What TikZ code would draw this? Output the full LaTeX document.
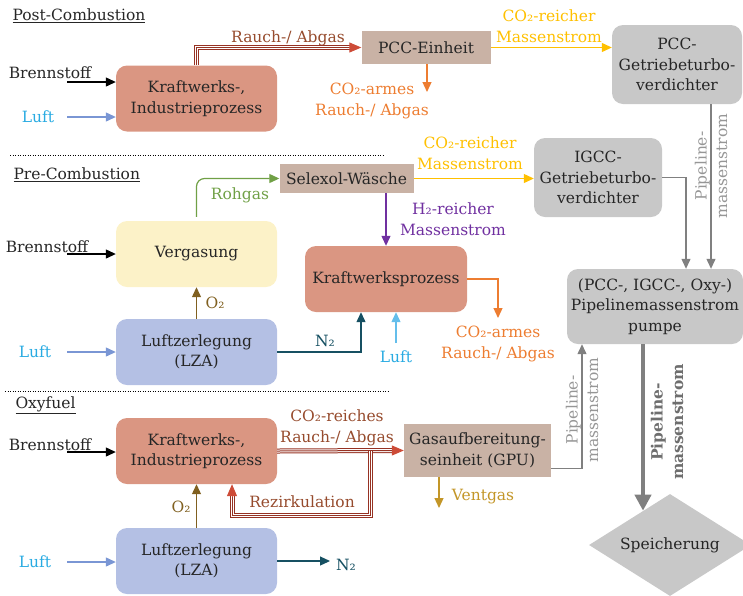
\documentclass[tikz,border=0pt]{standalone}
\usepackage{fontspec}
\setmainfont{DejaVu Serif}
\usetikzlibrary{arrows.meta,shapes.geometric}

\definecolor{kwred}{RGB}{218,150,130}
\definecolor{tanfill}{RGB}{201,178,165}
\definecolor{grayfill}{RGB}{200,200,200}
\definecolor{vgfill}{RGB}{252,242,200}
\definecolor{lzafill}{RGB}{180,192,228}
\definecolor{co2yellow}{RGB}{255,192,0}
\definecolor{co2orange}{RGB}{237,125,49}
\definecolor{h2purple}{RGB}{112,48,160}
\definecolor{rohgreen}{RGB}{112,160,70}
\definecolor{n2teal}{RGB}{22,80,98}
\definecolor{o2brown}{RGB}{128,96,32}
\definecolor{luftline}{RGB}{122,150,212}
\definecolor{lufttext}{RGB}{41,171,226}
\definecolor{luftlight}{RGB}{100,190,235}
\definecolor{rauchline}{RGB}{150,50,35}
\definecolor{rauchtext}{RGB}{150,75,45}
\definecolor{rauchtip}{RGB}{205,75,55}
\definecolor{pipeline}{RGB}{128,128,128}
\definecolor{pipetext}{RGB}{150,150,150}
\definecolor{pipebold}{RGB}{110,110,110}
\definecolor{ventgold}{RGB}{195,150,40}

\begin{document}
\begin{tikzpicture}[x=1pt, y=-1pt, font=\fontsize{15.5}{20.5}\selectfont,
        every node/.style={align=center, text=black!85},
        box/.style={rounded corners=11pt, minimum width=161pt, minimum height=66pt, inner sep=2pt},
        kwbox/.style={box, fill=kwred},
        vgbox/.style={box, fill=vgfill},
        lzabox/.style={box, fill=lzafill},
        graybox/.style={box, fill=grayfill},
        tanbox/.style={fill=tanfill, inner sep=2pt},
        store/.style={diamond, aspect=1.6, fill=grayfill, minimum width=162pt, minimum height=102pt, inner sep=0pt},
        flow/.style={line width=1.2pt, -{Triangle[length=10pt,width=9pt]}},
        triple/.style={draw=rauchline, line width=5pt,
            postaction={draw=white, line width=3pt},
            postaction={draw=rauchline, line width=1pt}},
        tiparrow/.style={draw=rauchtip, line width=1pt, -{Triangle[length=12pt,width=10pt]}},
        sepline/.style={line width=0.8pt, dash pattern=on 1pt off 1.5pt},
        pipelabel/.style={rotate=90, text=pipetext}]

    \useasboundingbox (0,0) rectangle (743,595);

    \node[anchor=west] (post) at (9,16) {\underline{Post-Combustion}};
    \node[anchor=west] (pre) at (10,175) {\underline{Pre-Combustion}};
    \node[anchor=west] (oxy) at (12,405) {\underline{Oxyfuel}};
    \draw[sepline] (10,155) -- (385,155);
    \draw[sepline] (5,391) -- (388,391);

    \node[kwbox] (kwA) at (196.5,98.5) {Kraftwerks-,\\Industrieprozess};
    \node[tanbox, minimum width=129pt, minimum height=33pt] (pcc) at (426,47.5) {PCC-Einheit};
    \node[graybox, minimum width=130pt, minimum height=79pt] (pccgt) at (677,64.5) {PCC-\\Getriebeturbo-\\verdichter};
    \node[vgbox] (vg) at (196.5,254) {Vergasung};
    \node[tanbox, minimum width=134pt, minimum height=29pt] (sel) at (346.5,178.5) {Selexol-Wäsche};
    \node[graybox, minimum width=128pt, minimum height=79pt] (igcc) at (598,177.5) {IGCC-\\Getriebeturbo-\\verdichter};
    \node[kwbox, minimum width=162pt] (kwp) at (386,279) {Kraftwerksprozess};
    \node[lzabox] (lzaB) at (196.5,352) {Luftzerlegung\\(LZA)};
    \node[graybox, minimum width=176pt, minimum height=75pt] (pump) at (655,306.5) {(PCC-, IGCC-, Oxy-)\\Pipelinemassenstrom\\pumpe};
    \node[kwbox] (kwC) at (196.5,451) {Kraftwerks-,\\Industrieprozess};
    \node[tanbox, minimum width=147pt, minimum height=53pt] (gpu) at (477.5,450.5) {Gasaufbereitung-\\seinheit (GPU)};
    \node[lzabox] (lzaC) at (196.5,561) {Luftzerlegung\\(LZA)};
    \node[store] (speicher) at (670,545) {Speicherung};

    \node (bsA) at (50,73) {Brennstoff};
    \node[text=lufttext] (luftA) at (38,117) {Luft};
    \node (bsB) at (47,247) {Brennstoff};
    \node[text=lufttext] (luftB) at (35,352) {Luft};
    \node (bsC) at (50,445) {Brennstoff};
    \node[text=lufttext] (luftC) at (35,562) {Luft};

    \coordinate (bsAin) at (67,82);
    \coordinate (luftAin) at (67,117);
    \coordinate (bsBin) at (67,254);
    \coordinate (luftBin) at (67,352);
    \coordinate (bsCin) at (67,452);
    \coordinate (luftCin) at (67,562);
    \draw[flow, black] (bsAin) -- (bsAin -| kwA.west);
    \draw[flow, luftline] (luftAin) -- (luftAin -| kwA.west);
    \draw[flow, black] (bsBin) -- (bsBin -| vg.west);
    \draw[flow, luftline] (luftBin) -- (luftBin -| lzaB.west);
    \draw[flow, black] (bsCin) -- (bsCin -| kwC.west);
    \draw[flow, luftline] (luftCin) -- (luftCin -| lzaC.west);

    \node[text=rauchtext] (rauchA) at (288,38) {Rauch-/ Abgas};
    \draw[triple] (kwA.north) |- ([xshift=-11pt]pcc.west);
    \draw[tiparrow] ([xshift=-12pt]pcc.west) -- (pcc.west);

    \coordinate (armAend) at (427,92);
    \draw[flow, co2orange] (pcc.south -| armAend) -- (armAend);
    \node[text=co2orange] (armA) at (372,101) {CO₂-armes\\Rauch-/ Abgas};
    \draw[flow, co2yellow] (pcc.east) -- (pcc.east -| pccgt.west);
    \node[text=co2yellow] (reichA) at (549,26) {CO₂-reicher\\Massenstrom};

    \draw[flow, pipeline] ([xshift=34pt]pccgt.south) -- ([xshift=34pt]pccgt.south |- pump.north);
    \node[pipelabel] (pipeA) at (711,166) {Pipeline-\\massenstrom};

    \draw[flow, rohgreen, rounded corners=8pt] ([yshift=4pt]vg.north) |- (sel.west);
    \node[text=rohgreen] (roh) at (240,195) {Rohgas};
    \draw[flow, o2brown] (lzaB.north) -- (vg.south);
    \node[text=o2brown] (o2B) at (215,303) {O₂};

    \draw[flow, co2yellow] (sel.east) -- (sel.east -| igcc.west);
    \node[text=co2yellow] (reichB) at (470,153) {CO₂-reicher\\Massenstrom};
    \draw[flow, h2purple] (kwp.north |- sel.south) -- (kwp.north);
    \node[text=h2purple] (h2) at (453,219) {H₂-reicher\\Massenstrom};

    \coordinate (armBend) at (498,318);
    \draw[flow, co2orange] (kwp.east) -| (armBend);
    \node[text=co2orange] (armB) at (498,344) {CO₂-armes\\Rauch-/ Abgas};
    \draw[flow, n2teal] (lzaB.east) -| ([xshift=-25pt]kwp.south);
    \node[text=n2teal] (n2B) at (325,341) {N₂};
    \coordinate (luftKin) at (396,343);
    \draw[flow, luftlight] (luftKin) -- (luftKin |- kwp.south);
    \node[text=lufttext] (luftK) at (396,357) {Luft};

    \draw[flow, pipeline] (igcc.east) -| ([xshift=31pt]pump.north);

    \coordinate (split) at (370,451);
    \coordinate (rezi) at (232,515);
    \draw[triple] (kwC.east) -- ([xshift=-11pt]gpu.west);
    \draw[triple] (split) |- (rezi) -- ([yshift=-11pt]rezi |- kwC.south);
    \draw[tiparrow] ([yshift=-12pt]rezi |- kwC.south) -- (rezi |- kwC.south);
    \draw[tiparrow] ([xshift=-12pt]gpu.west) -- (gpu.west);
    \node[text=rauchtext] (reichC) at (337,428) {CO₂-reiches\\Rauch-/ Abgas};
    \node[text=rauchtext] (rezlab) at (302,502) {Rezirkulation};

    \draw[flow, o2brown] (lzaC.north) -- (kwC.south);
    \node[text=o2brown] (o2C) at (181,507) {O₂};
    \coordinate (n2Cend) at (330,562);
    \draw[flow, n2teal] (lzaC.east) -- (lzaC.east -| n2Cend);
    \node[text=n2teal] (n2C) at (346,565) {N₂};

    \coordinate (ventend) at (439,508);
    \draw[flow, ventgold] (gpu.south -| ventend) -- (ventend);
    \node[text=ventgold] (vent) at (483,497) {Ventgas};

    \draw[flow, pipeline] ([yshift=-18pt]gpu.east) -| ([xshift=-73pt]pump.south);
    \node[pipelabel] (pipeC) at (582,410) {Pipeline-\\massenstrom};

    \draw[line width=4pt, pipeline, -{Triangle[length=16pt,width=16pt]}] ([xshift=-12pt]pump.south) -- ([xshift=-12pt]pump.south |- speicher.128);
    \node[rotate=90, text=pipebold, font=\fontsize{15.5}{20.5}\selectfont\bfseries] (pipeD) at (667,422) {Pipeline-\\massenstrom};
\end{tikzpicture}
\end{document}
